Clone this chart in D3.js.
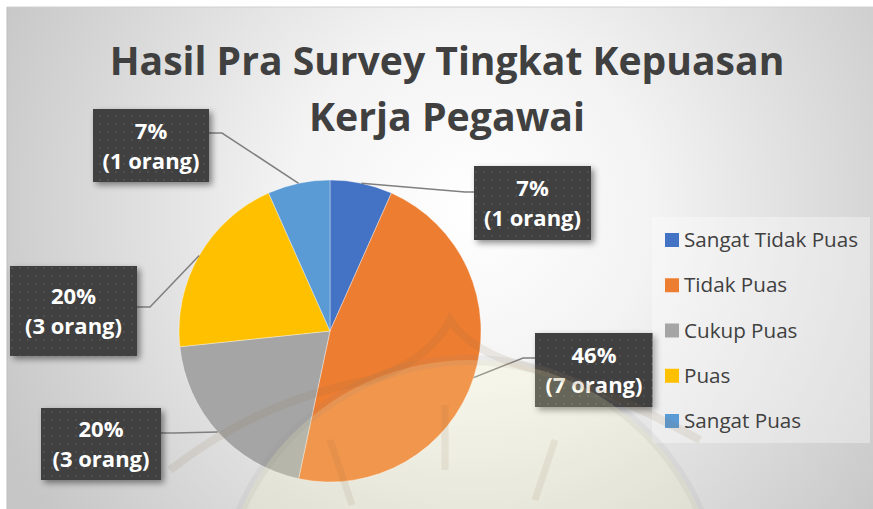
<!DOCTYPE html>
<html>
<head>
<meta charset="utf-8">
<script src="https://cdn.jsdelivr.net/npm/d3@7"></script>
<style>
  html, body { margin: 0; padding: 0; background: #fff; }
  svg { display: block; }
</style>
</head>
<body>
<svg id="chart" width="873" height="509"></svg>
<script>
// ---------- DATA ----------
const titleLines = ["Hasil Pra Survey Tingkat Kepuasan", "Kerja Pegawai"];
const categories = ["Sangat Tidak Puas", "Tidak Puas", "Cukup Puas", "Puas", "Sangat Puas"];
const counts = [1, 7, 3, 3, 1];
const percentLabels = ["7%", "46%", "20%", "20%", "7%"];
const countLabels = ["(1 orang)", "(7 orang)", "(3 orang)", "(3 orang)", "(1 orang)"];
const colors = ["#4472C4", "#ED7D31", "#A5A5A5", "#FFC000", "#5B9BD5"];

// ---------- LAYOUT ----------
const W = 873, H = 509;
const cx = 330, cy = 331, R = 151;
const labelLayout = [
  { x: 474, y: 166, w: 117, h: 74, elbow: [465, 192], attach: [474, 192] },
  { x: 535, y: 333, w: 118, h: 74, elbow: [523, 358], attach: [535, 358] },
  { x: 41,  y: 408, w: 120, h: 72, elbow: [174, 433], attach: [161, 433] },
  { x: 10,  y: 266, w: 127, h: 90, elbow: [150, 307], attach: [137, 307] },
  { x: 93,  y: 109, w: 116, h: 73, elbow: [222, 133], attach: [209, 133] }
];

const svg = d3.select("#chart");
const defs = svg.append("defs");

const bg = defs.append("radialGradient").attr("id", "bgGrad")
  .attr("gradientUnits", "userSpaceOnUse")
  .attr("cx", 470).attr("cy", 210).attr("r", 520);
bg.append("stop").attr("offset", "0%").attr("stop-color", "#ffffff");
bg.append("stop").attr("offset", "35%").attr("stop-color", "#f3f3f3");
bg.append("stop").attr("offset", "100%").attr("stop-color", "#c6c6c6");

const pat = defs.append("pattern").attr("id", "dots")
  .attr("patternUnits", "userSpaceOnUse").attr("width", 8).attr("height", 8);
pat.append("rect").attr("width", 8).attr("height", 8).attr("fill", "#404040");
pat.append("rect").attr("x", 3).attr("y", 3).attr("width", 2).attr("height", 2).attr("fill", "#4f4f4f");

const f = defs.append("filter").attr("id", "shadow")
  .attr("x", "-20%").attr("y", "-20%").attr("width", "150%").attr("height", "150%");
f.append("feDropShadow").attr("dx", 3).attr("dy", 3).attr("stdDeviation", 3)
  .attr("flood-color", "#000").attr("flood-opacity", 0.45);

svg.append("rect").attr("x", 7).attr("y", 7).attr("width", W - 7).attr("height", H - 7)
  .attr("fill", "url(#bgGrad)");
svg.append("line").attr("x1", 7).attr("y1", 7).attr("x2", W).attr("y2", 7)
  .attr("stroke", "#d0d0d0").attr("stroke-width", 1);
svg.append("line").attr("x1", 7).attr("y1", 7).attr("x2", 7).attr("y2", H)
  .attr("stroke", "#bdbdbd").attr("stroke-width", 1);

function fitText(sel, targetW) {
  const fs = parseFloat(sel.attr("font-size"));
  const w = sel.node().getComputedTextLength();
  sel.attr("font-size", (fs * targetW / w).toFixed(2));
}

// ---------- TITLE ----------
const titleBase = [75, 131];
const titleW = [675, 276];
titleLines.forEach((t, i) => {
  const tx = svg.append("text")
    .attr("x", 447).attr("y", titleBase[i])
    .attr("text-anchor", "middle")
    .attr("font-family", "'Open Sans', sans-serif")
    .attr("font-weight", 700)
    .attr("font-size", 40)
    .attr("fill", "#404040")
    .text(t);
  fitText(tx, titleW[i]);
});

// ---------- PIE ----------
const pie = d3.pie().sort(null).value(d => d)(counts);
const arc = d3.arc().innerRadius(0).outerRadius(R);
const g = svg.append("g").attr("transform", `translate(${cx},${cy})`);
g.selectAll("path.slice").data(pie).join("path")
  .attr("class", "slice")
  .attr("d", arc)
  .attr("fill", (d, i) => colors[i])
  .attr("stroke", "#ffffff").attr("stroke-width", 0.6).attr("stroke-opacity", 0.6);

const edgeArc = d3.arc().innerRadius(R).outerRadius(R);
pie.forEach((d, i) => {
  const c = edgeArc.centroid(d);
  const L = labelLayout[i];
  svg.append("polyline")
    .attr("points", [[cx + c[0], cy + c[1]], L.elbow, L.attach].map(p => p.join(",")).join(" "))
    .attr("fill", "none").attr("stroke", "#7f7f7f").attr("stroke-width", 1.5);
});

labelLayout.forEach((L, i) => {
  const gg = svg.append("g");
  gg.append("rect").attr("x", L.x).attr("y", L.y).attr("width", L.w).attr("height", L.h)
    .attr("fill", "url(#dots)").attr("filter", "url(#shadow)");
  const mx = L.x + L.w / 2, my = L.y + L.h / 2;
  const t1 = gg.append("text").attr("x", mx).attr("y", my - 7)
    .attr("text-anchor", "middle").attr("font-family", "'Open Sans', sans-serif")
    .attr("font-weight", 700).attr("font-size", 22).attr("fill", "#ffffff")
    .text(percentLabels[i]);
  const t2 = gg.append("text").attr("x", mx).attr("y", my + 23)
    .attr("text-anchor", "middle").attr("font-family", "'Open Sans', sans-serif")
    .attr("font-weight", 700).attr("font-size", 22).attr("fill", "#ffffff")
    .text(countLabels[i]);
  fitText(t2, 97);
  t1.attr("font-size", t2.attr("font-size"));
});

// ---------- LEGEND ----------
svg.append("rect").attr("x", 652).attr("y", 217).attr("width", 218).attr("height", 226)
  .attr("fill", "#ffffff").attr("fill-opacity", 0.35);
const legendY = d3.scalePoint().domain(categories).range([240, 421]);
let legendFs = null;
categories.forEach((c, i) => {
  const y = legendY(c);
  svg.append("rect").attr("x", 665).attr("y", y - 7).attr("width", 14).attr("height", 14)
    .attr("fill", colors[i]);
  const t = svg.append("text").attr("x", 684).attr("y", y + 7)
    .attr("font-family", "'Open Sans', sans-serif").attr("font-size", 20)
    .attr("fill", "#404040").text(c);
  if (i === 0) { fitText(t, 174); legendFs = t.attr("font-size"); }
  else t.attr("font-size", legendFs);
});

// ---------- faint watermark overlay ----------
const wm = svg.append("g").style("pointer-events", "none");
wm.append("circle").attr("cx", 470).attr("cy", 610).attr("r", 250)
  .attr("fill", "#fffbc0").attr("fill-opacity", 0.2)
  .attr("stroke", "#8a8a8a").attr("stroke-opacity", 0.1).attr("stroke-width", 10);
wm.append("path")
  .attr("d", "M170,470 Q260,400 370,380 Q430,360 450,320 Q470,350 520,365 Q600,385 700,440")
  .attr("fill", "none").attr("stroke", "#8a6a40").attr("stroke-opacity", 0.12).attr("stroke-width", 8);
wm.append("path").attr("d", "M330,440 L352,505 M445,405 L445,470 M555,440 L535,500")
  .attr("fill", "none").attr("stroke", "#8a6a40").attr("stroke-opacity", 0.1).attr("stroke-width", 7);
</script>
</body>
</html>
